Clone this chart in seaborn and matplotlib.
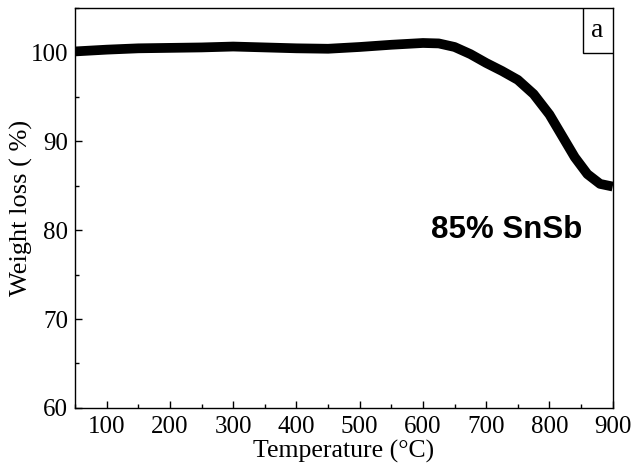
import numpy as np
import pandas as pd
import matplotlib
matplotlib.use("Agg")
import matplotlib.pyplot as plt
import seaborn as sns
from matplotlib.ticker import MultipleLocator
from matplotlib.patches import Rectangle

temperature = [50, 100, 150, 200, 250, 300, 350, 400, 450, 500, 550, 600, 625, 650, 675,
               700, 725, 750, 775, 800, 820, 840, 860, 880, 900]
weight = [100.1, 100.3, 100.45, 100.5, 100.55, 100.65, 100.55, 100.45, 100.4, 100.6, 100.85, 101.05,
          101.0, 100.6, 99.8, 98.8, 97.9, 96.9, 95.3, 93.0, 90.6, 88.2, 86.3, 85.2, 84.9]
xticks = [100, 200, 300, 400, 500, 600, 700, 800, 900]
yticks = [60, 70, 80, 90, 100]

sns.set_theme(style="ticks")
plt.rcParams['font.family'] = ['Liberation Serif', 'DejaVu Serif']
plt.rcParams['text.color'] = 'black'
plt.rcParams['axes.labelcolor'] = 'black'

fig = plt.figure(figsize=(6.31, 4.63), dpi=100)
ax = fig.add_axes([0.119, 0.119, 0.852, 0.864])

df = pd.DataFrame({"T": temperature, "W": weight})
sns.lineplot(data=df, x="T", y="W", ax=ax, color="black", linewidth=7,
             solid_capstyle="butt")

ax.set_xlim(50, 900)
ax.set_ylim(60, 105)
ax.set_xticks(xticks)
ax.set_yticks(yticks)
ax.xaxis.set_minor_locator(MultipleLocator(50))
ax.yaxis.set_minor_locator(MultipleLocator(5))
ax.tick_params(which="both", direction="in", labelsize=18, colors="black", width=1)
ax.tick_params(which="major", length=5)
ax.tick_params(which="minor", length=3)
ax.tick_params(axis="x", pad=6)
ax.tick_params(axis="y", pad=5)
for s in ax.spines.values():
    s.set_linewidth(1)
    s.set_color("black")

ax.set_xlabel("Temperature (°C)", fontsize=18.5, labelpad=1)
ax.set_ylabel("Weight loss ( %)", fontsize=19, labelpad=-2)

ax.text(612, 80, "85% SnSb", fontsize=22.5, fontweight="bold", color="black",
        family=["Liberation Sans", "DejaVu Sans"], va="center", ha="left")

bw, bh = 0.056, 0.1125
ax.add_patch(Rectangle((1 - bw, 1 - bh), bw, bh, transform=ax.transAxes,
                       facecolor="white", edgecolor="black", linewidth=1, zorder=5))
ax.text(1 - bw / 2, 1 - bh / 2, "a", transform=ax.transAxes, fontsize=20,
        ha="center", va="center", zorder=6)

fig.savefig("out.png", dpi=100)
